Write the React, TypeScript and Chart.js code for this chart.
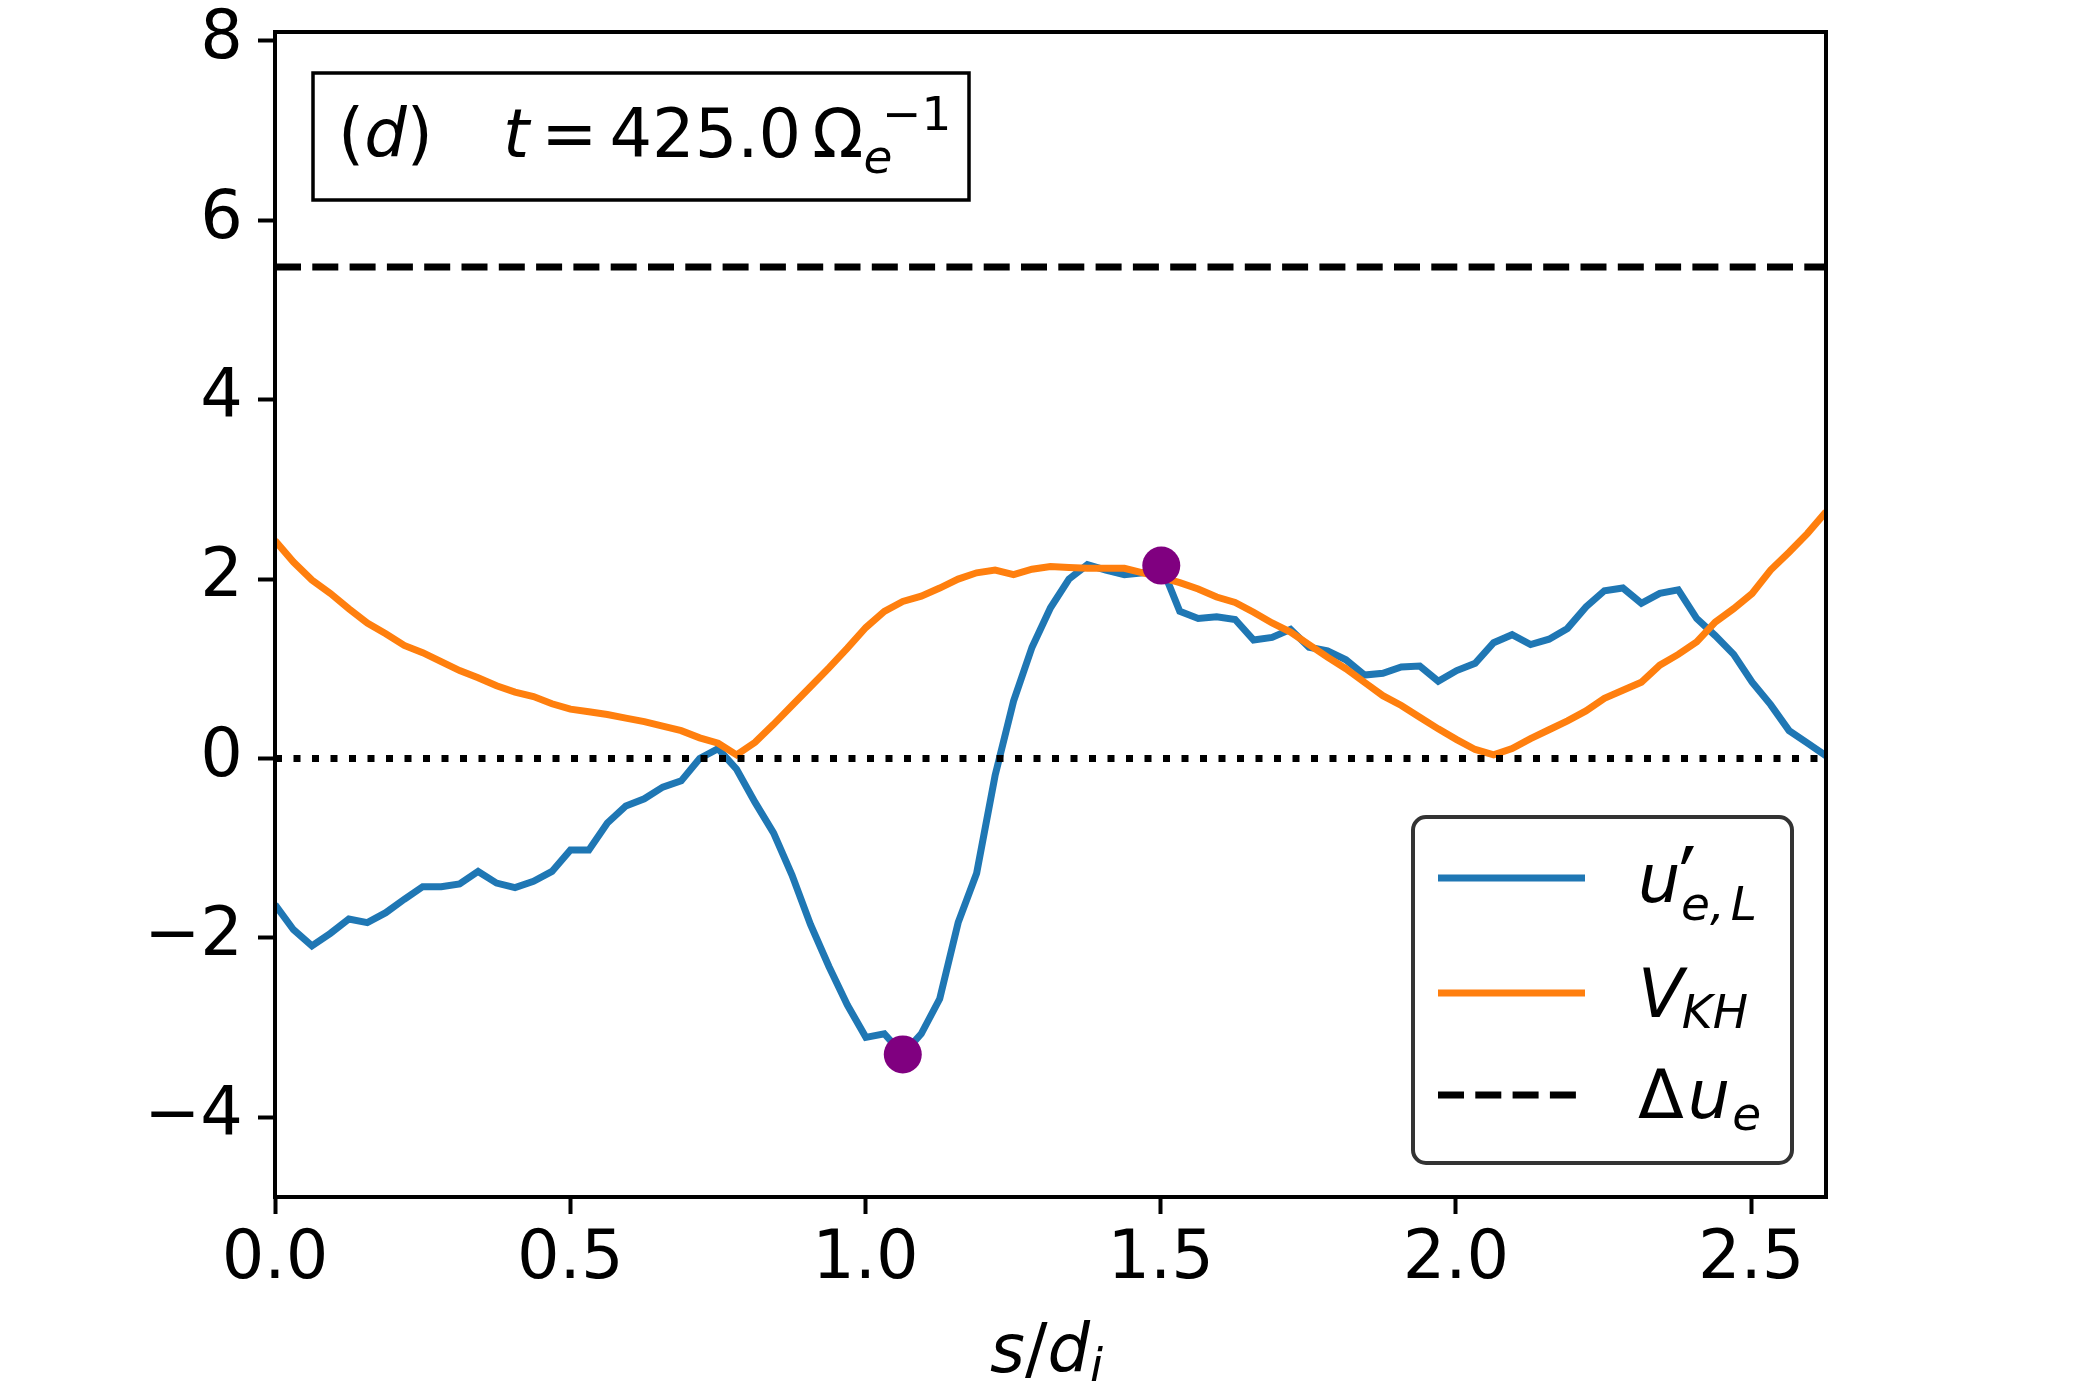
import { useEffect, useRef } from "react";
import { Chart, registerables } from "chart.js";

Chart.register(...registerables);

// sample spacing along s/d_i, 85 samples from 0 to the right edge
const S_STEP = 0.03127;
const S_MAX = 2.6267;

const U_EL = [
  -1.63, -1.91, -2.09, -1.95, -1.79, -1.83, -1.72, -1.57, -1.43, -1.43,
  -1.4, -1.26, -1.39, -1.44, -1.37, -1.26, -1.02, -1.02, -0.72, -0.53,
  -0.45, -0.32, -0.25, 0.0, 0.11, -0.12, -0.49, -0.83, -1.3, -1.85,
  -2.32, -2.75, -3.11, -3.07, -3.3, -3.07, -2.68, -1.83, -1.28, -0.19,
  0.64, 1.24, 1.68, 2.0, 2.16, 2.1, 2.05, 2.07, 2.15, 1.64,
  1.56, 1.58, 1.55, 1.32, 1.35, 1.44, 1.24, 1.2, 1.1, 0.93,
  0.95, 1.02, 1.03, 0.86, 0.98, 1.06, 1.29, 1.38, 1.27, 1.33,
  1.45, 1.69, 1.87, 1.9, 1.73, 1.84, 1.88, 1.56, 1.37, 1.16,
  0.85, 0.6, 0.31, 0.17, 0.03,
];

const V_KH = [
  2.43, 2.19, 1.99, 1.84, 1.67, 1.51, 1.39, 1.26, 1.18, 1.08,
  0.98, 0.9, 0.81, 0.74, 0.69, 0.61, 0.55, 0.52, 0.49, 0.45,
  0.41, 0.36, 0.31, 0.23, 0.17, 0.04, 0.18, 0.38, 0.59, 0.8,
  1.01, 1.23, 1.46, 1.64, 1.75, 1.81, 1.9, 2.0, 2.07, 2.1,
  2.05, 2.11, 2.14, 2.13, 2.12, 2.12, 2.12, 2.07, 2.02, 1.96,
  1.89, 1.8, 1.74, 1.63, 1.51, 1.41, 1.27, 1.13, 1.0, 0.85,
  0.7, 0.59, 0.46, 0.33, 0.21, 0.1, 0.04, 0.11, 0.22, 0.32,
  0.42, 0.53, 0.67, 0.76, 0.85, 1.04, 1.16, 1.3, 1.52, 1.67,
  1.84, 2.1, 2.3, 2.51, 2.75,
];

const DELTA_UE = 5.48;
const PEAK_IDX = [34, 48];

const X_TICKS = [0, 0.5, 1.0, 1.5, 2.0, 2.5];
const Y_TICKS = [-4, -2, 0, 2, 4, 6, 8];
const Y_MIN = -4.89;
const Y_MAX = 8.1;

const BLUE = "#1f77b4";
const ORANGE = "#ff7f0e";
const FONT = '"DejaVu Sans"';
const FS = 67;
const SUB = 47;

type Run = { t: string; it?: boolean; size?: number; dy?: number; dx?: number; at?: number };

function drawMath(ctx: CanvasRenderingContext2D, runs: Run[], x0: number, y: number) {
  let x = x0;
  ctx.textAlign = "left";
  ctx.textBaseline = "alphabetic";
  ctx.fillStyle = "#000";
  for (const r of runs) {
    ctx.font = `${r.it ? "italic " : ""}${r.size ?? FS}px ${FONT}`;
    if (r.at !== undefined) x = r.at;
    x += r.dx ?? 0;
    ctx.fillText(r.t, x, y + (r.dy ?? 0));
    x += ctx.measureText(r.t).width;
  }
}

const decorations = {
  id: "decorations",
  afterDraw(chart: Chart) {
    const { ctx, chartArea: a } = chart;
    ctx.save();

    // frame
    ctx.strokeStyle = "#000";
    ctx.lineWidth = 4;
    ctx.strokeRect(a.left, a.top, a.right - a.left, a.bottom - a.top);

    // time label box
    ctx.fillStyle = "#fff";
    ctx.fillRect(313, 73, 656, 127);
    ctx.lineWidth = 3.5;
    ctx.strokeRect(313, 73, 656, 127);
    drawMath(
      ctx,
      [
        { t: "(" },
        { t: "d", it: true },
        { t: ")" },
        { t: "t", it: true, at: 503 },
        { t: "=", dx: 12 },
        { t: "425.0", dx: 12 },
        { t: "\u03a9", dx: 11 },
        { t: "e", it: true, size: SUB, dy: 16 },
      ],
      338,
      157
    );
    drawMath(ctx, [{ t: "\u22121", size: SUB }], 882, 130);

    // legend
    ctx.beginPath();
    ctx.roundRect(1413, 817, 379, 346, 13);
    ctx.fillStyle = "rgba(255,255,255,0.8)";
    ctx.fill();
    ctx.strokeStyle = "#333";
    ctx.lineWidth = 4;
    ctx.stroke();

    ctx.lineWidth = 7;
    ctx.lineCap = "butt";
    const lx0 = 1438;
    const lx1 = 1585;
    ctx.strokeStyle = BLUE;
    ctx.beginPath();
    ctx.moveTo(lx0, 878);
    ctx.lineTo(lx1, 878);
    ctx.stroke();
    ctx.strokeStyle = ORANGE;
    ctx.beginPath();
    ctx.moveTo(lx0, 993);
    ctx.lineTo(lx1, 993);
    ctx.stroke();
    ctx.strokeStyle = "#000";
    ctx.setLineDash([26, 11.3]);
    ctx.beginPath();
    ctx.moveTo(lx0, 1095);
    ctx.lineTo(lx1, 1095);
    ctx.stroke();
    ctx.setLineDash([]);

    drawMath(ctx, [{ t: "u", it: true }], 1638, 902);
    // prime mark
    ctx.fillStyle = "#000";
    ctx.beginPath();
    ctx.moveTo(1686, 846);
    ctx.lineTo(1694, 846);
    ctx.lineTo(1685, 864);
    ctx.lineTo(1681, 864);
    ctx.closePath();
    ctx.fill();
    drawMath(ctx, [{ t: "e,", it: true, size: SUB }, { t: "L", it: true, size: SUB, dx: 6 }], 1681, 920);
    drawMath(ctx, [{ t: "V", it: true }, { t: "KH", it: true, size: SUB, dy: 11, dx: -2 }], 1638, 1017);
    drawMath(ctx, [{ t: "\u0394" }, { t: "u", it: true, dx: 4 }, { t: "e", it: true, size: SUB, dy: 12, dx: 2 }], 1638, 1118);

    // x axis label
    drawMath(
      ctx,
      [{ t: "s", it: true }, { t: "/" }, { t: "d", it: true }, { t: "i", it: true, size: SUB, dy: 9 }],
      990,
      1372
    );

    ctx.restore();
  },
};

export default function App() {
  const canvasRef = useRef<HTMLCanvasElement>(null);
  const chartRef = useRef<Chart | null>(null);

  useEffect(() => {
    if (!canvasRef.current) return;
    const ctx = canvasRef.current.getContext("2d");
    if (!ctx) return;

    const blue = U_EL.map((v, i) => ({ x: i * S_STEP, y: v }));
    const orange = V_KH.map((v, i) => ({ x: i * S_STEP, y: v }));
    const peaks = PEAK_IDX.map((i) => ({ x: i * S_STEP, y: U_EL[i] }));

    chartRef.current?.destroy();
    chartRef.current = new Chart(ctx, {
      type: "line",
      data: {
        datasets: [
          {
            data: peaks,
            showLine: false,
            pointRadius: 19,
            pointBackgroundColor: "#800080",
            pointBorderWidth: 0,
            order: 0,
          },
          {
            data: [
              { x: 0, y: 0 },
              { x: S_MAX, y: 0 },
            ],
            borderColor: "#000",
            borderWidth: 7,
            borderDash: [7, 11.5],
            pointRadius: 0,
            order: 1,
          },
          { data: orange, borderColor: ORANGE, borderWidth: 7, pointRadius: 0, order: 2 },
          { data: blue, borderColor: BLUE, borderWidth: 7, pointRadius: 0, order: 3 },
          {
            data: [
              { x: 0, y: DELTA_UE },
              { x: S_MAX, y: DELTA_UE },
            ],
            borderColor: "#000",
            borderWidth: 7,
            borderDash: [26, 11.3],
            pointRadius: 0,
            order: 4,
          },
        ],
      },
      options: {
        responsive: false,
        animation: false,
        devicePixelRatio: 1,
        layout: { padding: { left: 75, right: 274, top: 32, bottom: 53 } },
        plugins: { legend: { display: false }, tooltip: { enabled: false } },
        elements: { line: { tension: 0, borderCapStyle: "butt", borderJoinStyle: "miter" } },
        scales: {
          x: {
            type: "linear",
            min: 0,
            max: S_MAX,
            afterFit: (s: any) => {
              s.height = 150;
              s.paddingLeft = 0;
              s.paddingRight = 0;
            },
            afterBuildTicks: (s) => {
              s.ticks = X_TICKS.map((v) => ({ value: v }));
            },
            border: { display: false },
            grid: { drawOnChartArea: false, drawTicks: true, tickLength: 17, tickWidth: 4, tickColor: "#000" },
            ticks: {
              color: "#000",
              padding: 6,
              maxRotation: 0,
              font: { family: "DejaVu Sans", size: FS },
              callback: (v) => Number(v).toFixed(1),
            },
          },
          y: {
            type: "linear",
            min: Y_MIN,
            max: Y_MAX,
            afterFit: (s: any) => {
              s.width = 200;
              s.paddingTop = 0;
              s.paddingBottom = 0;
            },
            afterBuildTicks: (s) => {
              s.ticks = Y_TICKS.map((v) => ({ value: v }));
            },
            border: { display: false },
            grid: { drawOnChartArea: false, drawTicks: true, tickLength: 17, tickWidth: 4, tickColor: "#000" },
            ticks: {
              color: "#000",
              padding: 15,
              font: { family: "DejaVu Sans", size: FS },
              callback: (v) => String(v).replace("-", "\u2212"),
            },
          },
        },
      },
      plugins: [decorations],
    });

    return () => chartRef.current?.destroy();
  }, []);

  return (
    <div style={{ position: "absolute", left: 0, top: 0, width: 2100, height: 1400, background: "#fff" }}>
      <canvas ref={canvasRef} width={2100} height={1400} style={{ width: 2100, height: 1400 }} />
    </div>
  );
}
